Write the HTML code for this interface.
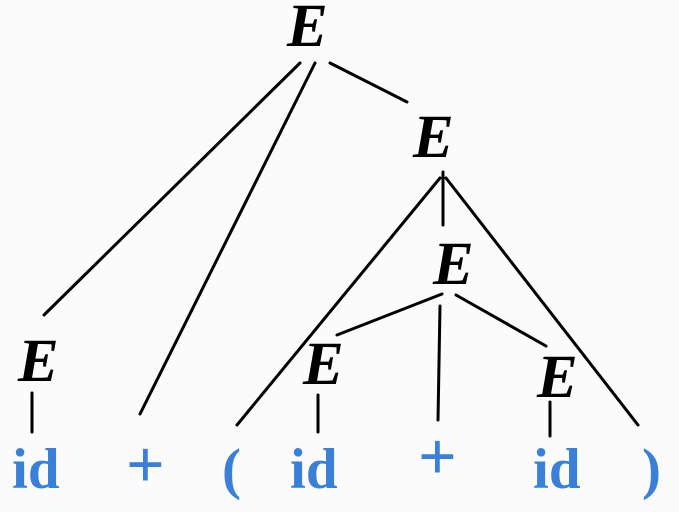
<!DOCTYPE html>
<html><head><style>
html,body{margin:0;padding:0;background:#fbfbfb;}
svg{display:block}
.E{font-family:"Liberation Serif",serif;font-weight:bold;font-style:italic;font-size:61px;fill:#000}
.t{font-family:"Liberation Serif",serif;font-weight:bold;font-size:57px;fill:#3a7fd8}
.p{font-family:"Liberation Serif",serif;font-weight:bold;font-size:68px;fill:#3a7fd8}
line{stroke:#000;stroke-width:3;stroke-linecap:round}
</style></head><body>
<svg width="679" height="512" viewBox="0 0 679 512">
<text class="E" x="287" y="46">E</text>
<text class="E" x="413" y="157">E</text>
<text class="E" x="433" y="284">E</text>
<text class="E" x="18" y="381">E</text>
<text class="E" x="303" y="384">E</text>
<text class="E" x="537" y="397">E</text>

<line x1="300" y1="63" x2="44" y2="315"/>
<line x1="315" y1="63" x2="140" y2="414"/>
<line x1="330" y1="63" x2="407" y2="102"/>
<line x1="443" y1="172" x2="443" y2="225"/>
<line x1="440" y1="178" x2="237" y2="425"/>
<line x1="446" y1="178" x2="638" y2="425"/>
<line x1="442" y1="294" x2="337" y2="335"/>
<line x1="440" y1="306" x2="438" y2="420"/>
<line x1="456" y1="295" x2="546" y2="346"/>
<line x1="32" y1="393" x2="32" y2="432"/>
<line x1="318" y1="395" x2="318" y2="432"/>
<line x1="550" y1="402" x2="550" y2="436"/>

<text class="t" x="12" y="488">id</text>
<text class="p" x="126" y="487">+</text>
<text class="t" x="222" y="488">(</text>
<text class="t" x="290" y="488">id</text>
<text class="p" x="418" y="479">+</text>
<text class="t" x="533" y="488">id</text>
<text class="t" x="642" y="488">)</text>
</svg>
</body></html>
